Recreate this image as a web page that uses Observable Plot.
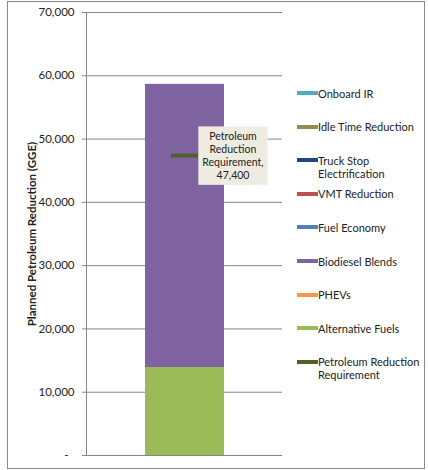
<!DOCTYPE html>
<html>
<head>
<meta charset="utf-8">
<script src="https://cdn.jsdelivr.net/npm/d3@7"></script>
<script src="https://cdn.jsdelivr.net/npm/@observablehq/plot@0.6"></script>
<style>
  body { margin: 0; background: #fff; }
  #wrap { position: relative; width: 428px; height: 470px; font-family: Lato, "Open Sans", sans-serif; }
  #border { position: absolute; left: 7px; top: 1px; width: 416px; height: 466px; border: 1.5px solid #8a8a8a; pointer-events: none; }
  #legend { position: absolute; left: 297px; top: 0; width: 131px; }
  .item { position: absolute; left: 0; display: flex; align-items: flex-start; font-size: 11px; line-height: 13px; color: #222; }
  .sw { width: 21px; height: 4px; margin-top: 4.5px; flex: none; }
  .lab { width: 106px; }
</style>
</head>
<body>
<div id="wrap"><div id="legend"></div><div id="border"></div></div>
<script>
// Series (legend order, top to bottom)
const series = ["Onboard IR", "Idle Time Reduction", "Truck Stop Electrification", "VMT Reduction", "Fuel Economy", "Biodiesel Blends", "PHEVs", "Alternative Fuels"];
const values = [0, 0, 0, 0, 0, 44750, 0, 13900];
const colors = ["#4BACC6", "#948A54", "#1F497D", "#C0504D", "#4F81BD", "#8064A2", "#F79646", "#9BBB59"];
const requirementName = "Petroleum Reduction Requirement";
const requirement = [47400];
const requirementColor = "#4F6228";
const yTicks = [0, 10000, 20000, 30000, 40000, 50000, 60000, 70000];
const yLabel = "Planned Petroleum Reduction (GGE)";
const category = "";

const data = series.map((s, i) => ({series: s, value: values[i], cat: category}));
const fmt = d3.format(",");

const chart = Plot.plot({
  width: 428,
  height: 470,
  marginLeft: 86,
  marginRight: 146,
  marginTop: 12,
  marginBottom: 15,
  style: {fontFamily: "Lato, 'Open Sans', sans-serif", fontSize: "11.5px", color: "#222", background: "transparent"},
  x: {domain: [category], padding: 0.425, axis: null},
  y: {domain: [0, 70000]},
  color: {domain: series, range: colors},
  marks: [
    Plot.gridY(yTicks, {stroke: "#868686", strokeOpacity: 1}),
    Plot.axisY(yTicks, {tickSize: 4, tickPadding: 8, stroke: "#868686", tickFormat: d => d === 0 ? "-\u00a0\u00a0" : fmt(d), label: null, fill: "#222"}),
    Plot.frame({anchor: "left", stroke: "#868686"}),
    Plot.barY(data, {x: "cat", y: "value", fill: "series", order: series.slice().reverse()}),
    Plot.tickY(requirement, {x: () => category, y: d => d, stroke: requirementColor, strokeWidth: 4, insetLeft: 26, insetRight: 26}),
    Plot.text(requirement, {x: () => category, y: d => d, text: d => `Petroleum\nReduction\nRequirement,\n${fmt(d)}`, dx: 48, dy: 0, fontSize: 10.5, lineHeight: 1.22, fill: "#222", className: "req-label"}),
    Plot.text([yLabel], {frameAnchor: "left", textAnchor: "middle", rotate: -90, dx: -54, text: d => d, fontWeight: "bold", fontSize: 11.5, fill: "#222"})
  ]
});
document.getElementById("wrap").prepend(chart);

// Background box behind the requirement label
const lab = chart.querySelector(".req-label");
if (lab) {
  const t = lab.querySelector("text");
  const bb = t.getBBox();
  const ns = "http://www.w3.org/2000/svg";
  const r = document.createElementNS(ns, "rect");
  r.setAttribute("x", bb.x - 4);
  r.setAttribute("y", bb.y - 4);
  r.setAttribute("width", bb.width + 8);
  r.setAttribute("height", bb.height + 8);
  r.setAttribute("fill", "#EEECE1");
  if (t.getAttribute("transform")) r.setAttribute("transform", t.getAttribute("transform"));
  lab.insertBefore(r, t);
}

// Legend
const legend = document.getElementById("legend");
const items = series.map((s, i) => ({name: s, color: colors[i]})).concat([{name: requirementName, color: requirementColor}]);
items.forEach((it, i) => {
  const div = document.createElement("div");
  div.className = "item";
  div.style.top = (86.5 + i * 33.6) + "px";
  div.innerHTML = `<div class="sw" style="background:${it.color}"></div><div class="lab">${it.name}</div>`;
  legend.appendChild(div);
});
</script>
</body>
</html>
